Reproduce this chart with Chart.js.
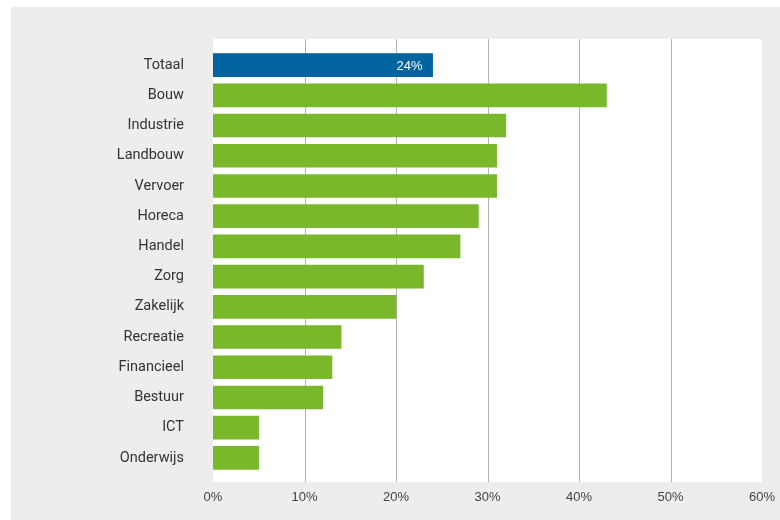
<!DOCTYPE html>
<html>
<head>
<meta charset="utf-8">
<style>
    html, body { margin: 0; padding: 0; background: #ffffff; }
    #wrap { width: 780px; height: 520px; }
</style>
<script src="https://cdn.jsdelivr.net/npm/chart.js@4"></script>
</head>
<body>
<div id="wrap"><canvas id="sectorChart" width="780" height="520"></canvas></div>
<script>
// ================= DATA =================
const categories = ["Totaal", "Bouw", "Industrie", "Landbouw", "Vervoer", "Horeca", "Handel",
    "Zorg", "Zakelijk", "Recreatie", "Financieel", "Bestuur", "ICT", "Onderwijs"];
const shares = [24, 43, 32, 31, 31, 29, 27, 23, 20, 14, 13, 12, 5, 5];
const tickValues = [0, 10, 20, 30, 40, 50, 60];

const blue = "#0064a0";
const green = "#78b82a";

// ================= PLUGINS =================
const panelPlugin = {
    id: "panel",
    beforeDraw(chart) {
        const ctx = chart.ctx;
        const area = chart.chartArea;
        ctx.save();
        ctx.fillStyle = "#ffffff";
        ctx.fillRect(0, 0, chart.width, chart.height);
        ctx.fillStyle = "#ededed";
        ctx.fillRect(11, 7, chart.width - 11, chart.height - 7);
        ctx.fillStyle = "#ffffff";
        ctx.fillRect(area.left, area.top - 11, area.right - area.left, area.bottom - area.top + 20);
        ctx.restore();
    },
    beforeDatasetsDraw(chart) {
        // vertical grid lines over the whole white panel
        const ctx = chart.ctx;
        const area = chart.chartArea;
        const x = chart.scales.x;
        ctx.save();
        ctx.strokeStyle = "#b3b3b3";
        ctx.lineWidth = 1;
        tickValues.slice(1, -1).forEach(v => {
            const px = Math.round(x.getPixelForValue(v)) + 0.5;
            ctx.beginPath();
            ctx.moveTo(px, area.top - 11);
            ctx.lineTo(px, area.bottom + 9);
            ctx.stroke();
        });
        ctx.restore();
    },
    afterDatasetsDraw(chart) {
        // value label inside the Totaal bar
        const bar = chart.getDatasetMeta(0).data[0];
        const ctx = chart.ctx;
        ctx.save();
        ctx.fillStyle = "#ffffff";
        ctx.font = "13px 'Liberation Sans', Arial, sans-serif";
        ctx.textAlign = "right";
        ctx.textBaseline = "middle";
        ctx.fillText(shares[0] + "%", bar.x - 10, bar.y + 1);
        ctx.restore();
    }
};

// ================= CHART =================
new Chart(document.getElementById("sectorChart"), {
    type: "bar",
    data: {
        labels: categories,
        datasets: [{
            data: shares,
            backgroundColor: categories.map((c, i) => i === 0 ? blue : green),
            borderWidth: 0,
            barThickness: 23
        }]
    },
    options: {
        indexAxis: "y",
        responsive: false,
        animation: false,
        layout: {
            padding: { top: 50, right: 18, bottom: 0, left: 0 }
        },
        plugins: {
            legend: { display: false },
            tooltip: { enabled: false }
        },
        scales: {
            x: {
                min: 0,
                max: 60,
                afterBuildTicks(scale) {
                    scale.ticks = tickValues.map(v => ({ value: v }));
                },
                afterFit(scale) {
                    scale.height = 47;
                    scale.paddingLeft = 0;
                    scale.paddingRight = 0;
                },
                grid: { display: false, drawTicks: false },
                border: { display: false },
                ticks: {
                    padding: 17,
                    color: "#444444",
                    font: { family: "'Liberation Sans', Arial, sans-serif", size: 13 },
                    maxRotation: 0,
                    callback: v => v + "%"
                }
            },
            y: {
                afterFit(scale) {
                    scale.width = 213;
                },
                grid: { display: false, drawTicks: false },
                border: { display: false },
                ticks: {
                    padding: 29,
                    color: "#333333",
                    font: { family: "Roboto, sans-serif", size: 14.5 }
                }
            }
        }
    },
    plugins: [panelPlugin]
});
</script>
</body>
</html>
